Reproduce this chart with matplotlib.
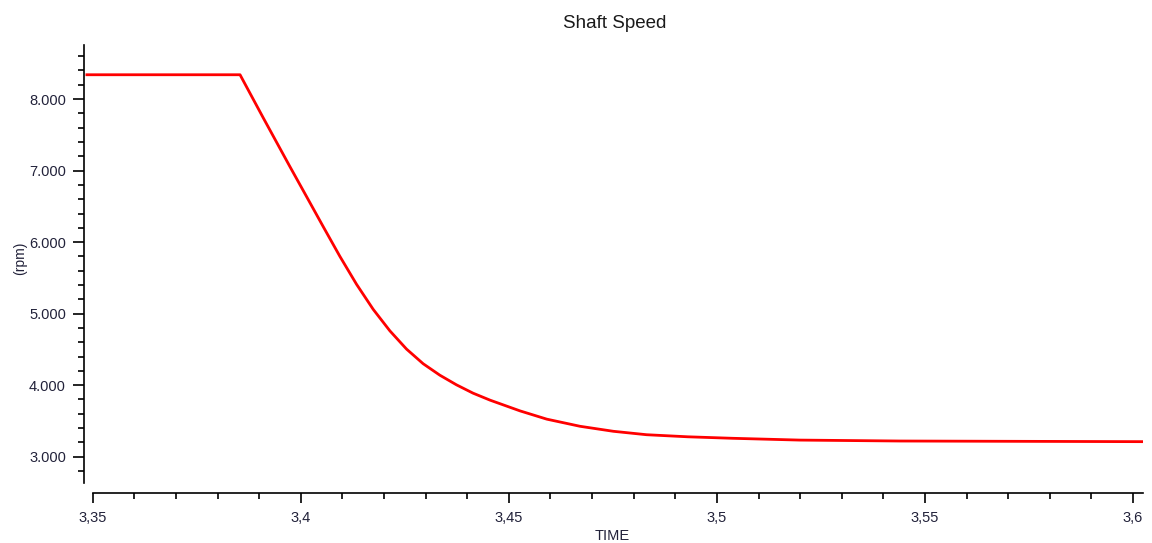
import matplotlib
matplotlib.use("Agg")
import matplotlib.pyplot as plt
from matplotlib.ticker import FuncFormatter, MultipleLocator

plt.rcParams['font.family'] = ['Liberation Sans', 'DejaVu Sans']

# Shaft speed trace (time in s, speed in rpm)
time = [3.3486, 3.3854, 3.3910, 3.3974, 3.4014, 3.4054, 3.4094, 3.4134,
        3.4174, 3.4214, 3.4254, 3.4294, 3.4334, 3.4374, 3.4414, 3.4455,
        3.4527, 3.4591, 3.4671, 3.4751, 3.4831, 3.4930, 3.5038, 3.5199,
        3.5440, 3.6024]
speed = [8340, 8340, 7735, 7054, 6635, 6215, 5800, 5410,
         5060, 4760, 4505, 4300, 4140, 4005, 3888, 3790,
         3640, 3525, 3425, 3355, 3307, 3278, 3257, 3232,
         3219, 3210]

x_ticks = [3.35, 3.40, 3.45, 3.50, 3.55, 3.60]
y_ticks = [3000, 4000, 5000, 6000, 7000, 8000]

W, H = 1152, 543
fig = plt.figure(figsize=(W / 100, H / 100), dpi=100)
ax = fig.add_axes([84 / W, (H - 483) / H, (1143 - 84) / W, (483 - 45) / H])

ax.plot(time, speed, color='#ff0000', lw=2.0, solid_joinstyle='round')

ax.set_xlim(3.3479, 3.6024)
ax.set_ylim(2632, 8756)

for s in ('top', 'right'):
    ax.spines[s].set_visible(False)
ax.spines['left'].set_linewidth(1.2)
ax.spines['bottom'].set_linewidth(1.2)
ax.spines['bottom'].set_position(('outward', 7))
ax.spines['bottom'].set_bounds(3.35, 3.6024)

ax.set_xticks(x_ticks)
ax.set_yticks(y_ticks)
ax.xaxis.set_minor_locator(MultipleLocator(0.01))
ax.yaxis.set_minor_locator(MultipleLocator(200))


def fmt_x(v, pos):
    s = f"{v:.2f}".rstrip('0').rstrip('.')
    return s.replace('.', ',')


def fmt_y(v, pos):
    return f"{int(round(v)):,}".replace(',', '.')


ax.xaxis.set_major_formatter(FuncFormatter(fmt_x))
ax.yaxis.set_major_formatter(FuncFormatter(fmt_y))

label_color = '#22223a'
ax.tick_params(axis='y', which='major', length=8, width=1.2, pad=5,
               labelsize=10.5, labelcolor=label_color)
ax.tick_params(axis='y', which='minor', length=4, width=1.2)
ax.tick_params(axis='x', which='major', length=7, width=1.2, pad=6,
               labelsize=10.5, labelcolor=label_color)
ax.tick_params(axis='x', which='minor', length=4, width=1.2)

fig.text(615 / W, 1 - 24 / H, 'Shaft Speed', ha='center', va='center',
         fontsize=13.5, color='#1a1a1a')
fig.text(612 / W, 1 - 536 / H, 'TIME', ha='center', va='center',
         fontsize=10.5, color=label_color)
fig.text(20 / W, 1 - 258 / H, '(rpm)', ha='center', va='center',
         rotation=90, fontsize=10, color=label_color)

fig.savefig('out.png', dpi=100)
